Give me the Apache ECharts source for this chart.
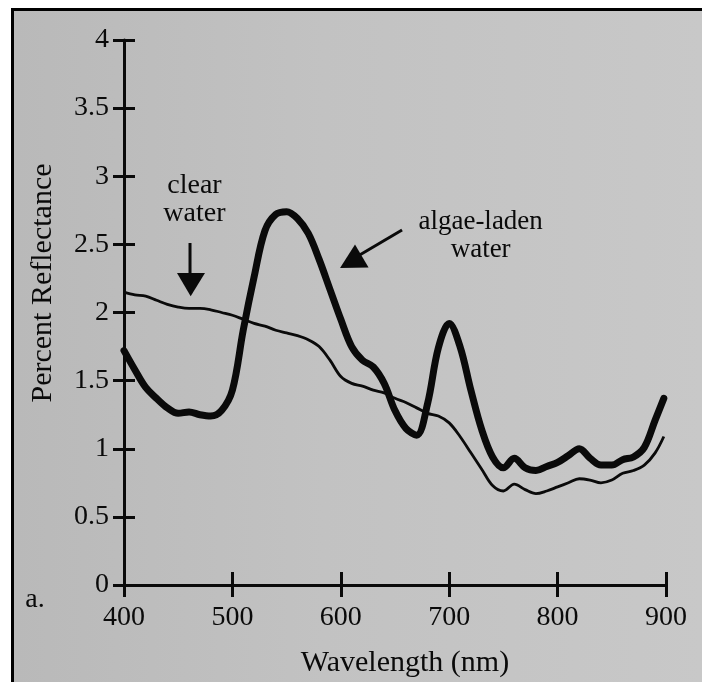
<!DOCTYPE html>
<html><head><meta charset="utf-8">
<script src="https://cdn.jsdelivr.net/npm/echarts@6/dist/echarts.min.js"></script>
<style>
html,body{margin:0;padding:0;background:#fff;}
#frame{position:absolute;left:11px;top:8px;width:691px;height:674px;box-sizing:border-box;border-left:3px solid #000;border-top:3px solid #000;background:linear-gradient(90deg,#b9b9b9 0%,#c2c2c2 45%,#c8c8c8 100%);}
#c{position:absolute;left:0;top:0;width:702px;height:682px;}
</style></head><body>
<div id="frame"></div><div id="c"></div>
<script>
// Wavelength (nm)
const wavelengths = [400,410,420,430,440,450,460,470,480,490,500,510,520,530,540,550,560,570,580,590,600,610,620,630,640,650,660,670,680,690,700,710,720,730,740,750,760,770,780,790,800,810,820,830,840,850,860,870,880,890,898];
// Percent reflectance, algae-laden water (thick line)
const algaeWater = [1.72,1.58,1.45,1.37,1.30,1.26,1.27,1.25,1.24,1.28,1.43,1.87,2.26,2.60,2.72,2.74,2.69,2.58,2.39,2.17,1.95,1.75,1.65,1.60,1.48,1.28,1.15,1.10,1.33,1.74,1.92,1.75,1.43,1.14,0.94,0.86,0.93,0.86,0.84,0.87,0.90,0.95,1.00,0.93,0.88,0.88,0.92,0.94,1.01,1.21,1.37];
// Percent reflectance, clear water (thin line)
const clearWater = [2.15,2.13,2.12,2.09,2.06,2.04,2.03,2.03,2.02,2.00,1.98,1.95,1.92,1.90,1.87,1.85,1.83,1.80,1.75,1.65,1.53,1.48,1.46,1.43,1.41,1.37,1.34,1.30,1.26,1.24,1.19,1.09,0.97,0.85,0.73,0.69,0.74,0.70,0.67,0.69,0.72,0.75,0.78,0.77,0.75,0.77,0.82,0.84,0.88,0.97,1.09];
const xTicks = [400,500,600,700,800,900];
const yTicks = [0,0.5,1,1.5,2,2.5,3,3.5,4];

const FONT = '"Liberation Serif", "DejaVu Serif", serif';
const INK = '#0a0a0a';

function pairs(ys){ return wavelengths.map((w,i)=>[w, ys[i]]); }

const chart = echarts.init(document.getElementById('c'), null, {renderer:'canvas'});
const axisBaseX = {
  type:'value', min:xTicks[0], max:xTicks[xTicks.length-1], interval:100, position:'bottom',
  splitLine:{show:false}
};
const axisBaseY = {
  type:'value', min:yTicks[0], max:yTicks[yTicks.length-1], interval:0.5, position:'left',
  splitLine:{show:false}
};
chart.setOption({
  backgroundColor:'transparent',
  animation:false,
  grid:{left:124, top:40, width:542, height:545, containLabel:false},
  xAxis:[
    Object.assign({}, axisBaseX, {
      axisLine:{show:true, lineStyle:{color:INK, width:3}},
      axisTick:{show:true, inside:false, length:12, lineStyle:{color:INK, width:3}},
      axisLabel:{show:true, margin:19, fontFamily:FONT, fontSize:28, color:INK}
    }),
    Object.assign({}, axisBaseX, {
      axisLine:{show:false},
      axisTick:{show:true, inside:true, length:13, lineStyle:{color:INK, width:3}},
      axisLabel:{show:false}
    })
  ],
  yAxis:[
    Object.assign({}, axisBaseY, {
      axisLine:{show:true, lineStyle:{color:INK, width:3}},
      axisTick:{show:true, inside:false, length:11, lineStyle:{color:INK, width:3}},
      axisLabel:{show:true, margin:15, fontFamily:FONT, fontSize:28, color:INK,
        formatter:v=>String(v)}
    }),
    Object.assign({}, axisBaseY, {
      axisLine:{show:false},
      axisTick:{show:true, inside:true, length:11, lineStyle:{color:INK, width:3}},
      axisLabel:{show:false}
    })
  ],
  series:[
    {name:'clear water', type:'line', xAxisIndex:0, yAxisIndex:0, data:pairs(clearWater),
     showSymbol:false, smooth:0.35, lineStyle:{color:INK, width:2.8}, z:3},
    {name:'algae-laden water', type:'line', xAxisIndex:0, yAxisIndex:0, data:pairs(algaeWater),
     showSymbol:false, smooth:0.35, lineStyle:{color:INK, width:7, cap:'round', join:'round'}, z:4}
  ]
});

// Annotations anchored in data coordinates
function px(x,y){ return chart.convertToPixel({gridIndex:0}, [x,y]); }
const clearText = px(465, 2.83);
const cA = px(460.9, 2.51), cB = px(460.9, 2.29), cL = px(448.9, 2.29), cR = px(474.7, 2.29), cT = px(461.5, 2.12);
const algaeText = px(729, 2.56);
const aTail = px(656.5, 2.605), aBase = px(617, 2.42), aTip = px(599.3, 2.327), aP1 = px(613.1, 2.50), aP2 = px(625.6, 2.33);

const textStyle = {fontFamily:FONT, fontSize:28, fill:INK, align:'center', verticalAlign:'middle', lineHeight:28};
const titleStyle = {fontFamily:FONT, fontSize:30, fill:INK, align:'center', verticalAlign:'middle'};
chart.setOption({
  graphic:[
    {type:'text', x:clearText[0], y:clearText[1], style:Object.assign({text:'clear\nwater'}, textStyle)},
    {type:'line', shape:{x1:cA[0], y1:cA[1], x2:cB[0], y2:cB[1]+1}, style:{stroke:INK, lineWidth:3}},
    {type:'polygon', shape:{points:[cL, cR, cT]}, style:{fill:INK}},
    {type:'text', x:algaeText[0], y:algaeText[1], style:Object.assign({text:'algae-laden\nwater'}, textStyle, {fontSize:27})},
    {type:'line', shape:{x1:aTail[0], y1:aTail[1], x2:aBase[0], y2:aBase[1]}, style:{stroke:INK, lineWidth:3}},
    {type:'polygon', shape:{points:[aTip, aP1, aP2]}, style:{fill:INK}},
    {type:'text', x:43, y:283, rotation:Math.PI/2,
     style:Object.assign({text:'Percent Reflectance'}, titleStyle)},
    {type:'text', x:405, y:663, style:Object.assign({text:'Wavelength (nm)'}, titleStyle)},
    {type:'text', x:35, y:600, style:Object.assign({text:'a.'}, textStyle)}
  ]
});
</script></body></html>
